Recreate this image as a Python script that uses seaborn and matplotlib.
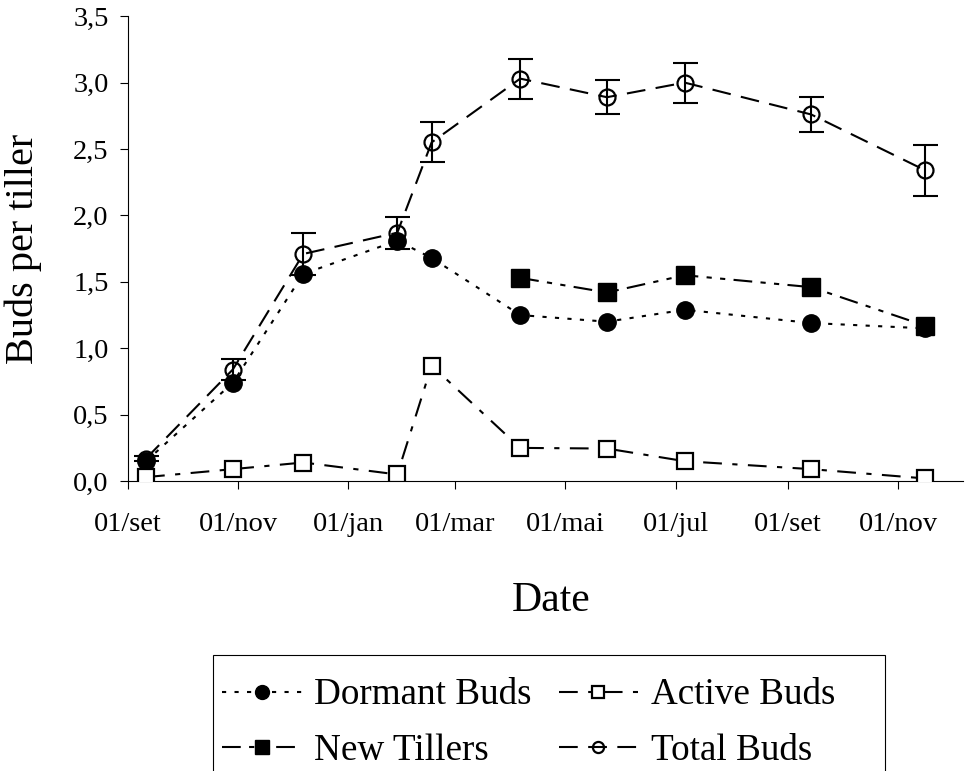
import pandas as pd
import matplotlib
matplotlib.use("Agg")
import matplotlib.pyplot as plt
from matplotlib.patches import Rectangle
import seaborn as sns

# sampling dates (real date axis, Sep 2004 -> Nov 2005)
dates = ["2004-09-11", "2004-10-29", "2004-12-07", "2005-01-28", "2005-02-16",
         "2005-04-06", "2005-05-24", "2005-07-06", "2005-09-14", "2005-11-16"]

dormant = [0.15, 0.74, 1.56, 1.81, 1.68, 1.25, 1.20, 1.29, 1.19, 1.15]
active = [0.03, 0.09, 0.14, 0.05, 0.87, 0.25, 0.245, 0.15, 0.09, 0.02]
new_tillers = [1.53, 1.42, 1.55, 1.46, 1.17]   # only from the 6th date on
total = [0.17, 0.84, 1.71, 1.87, 2.55, 3.03, 2.89, 3.00, 2.76, 2.34]
total_err = [0.02, 0.08, 0.16, 0.12, 0.15, 0.15, 0.13, 0.15, 0.13, 0.19]

tick_dates = ["2004-09-01", "2004-11-01", "2005-01-01", "2005-03-01",
              "2005-05-01", "2005-07-01", "2005-09-01", "2005-11-01"]
tick_labels = ["01/set", "01/nov", "01/jan", "01/mar", "01/mai", "01/jul", "01/set", "01/nov"]

x = pd.to_datetime(dates)

sns.set_style("ticks", rc={"text.color": "k", "axes.labelcolor": "k",
                           "xtick.color": "k", "ytick.color": "k", "axes.edgecolor": "k"})
plt.rcParams['font.family'] = ['Liberation Serif', 'DejaVu Serif']

fig = plt.figure(figsize=(9.65, 7.71), dpi=100)
ax = fig.add_axes([0.1326, 0.376, 0.998 - 0.1326, 0.979 - 0.376])

lw = 1.5
h_dorm = sns.lineplot(x=x, y=dormant, ax=ax, color='k', lw=lw, linestyle=(0, (2, 4)),
                      marker='o', markersize=12.5, markerfacecolor='k', markeredgecolor='k',
                      markeredgewidth=1, zorder=3).lines[-1]
h_act = sns.lineplot(x=x, y=active, ax=ax, color='k', lw=lw, linestyle=(0, (9, 5, 2.5, 5)),
                     marker='s', markersize=11.5, markerfacecolor='w', markeredgecolor='k',
                     markeredgewidth=1.6, zorder=4).lines[-1]
h_new = sns.lineplot(x=x[5:], y=new_tillers, ax=ax, color='k', lw=lw,
                     linestyle=(0, (9, 4, 2.5, 4, 2.5, 4)),
                     marker='s', markersize=12.5, markerfacecolor='k', markeredgecolor='k',
                     markeredgewidth=1, zorder=5).lines[-1]
h_tot = sns.lineplot(x=x, y=total, ax=ax, color='k', lw=lw, linestyle=(0, (9, 5)),
                     marker='o', markersize=11.5, markerfacecolor='none', markeredgecolor='k',
                     markeredgewidth=1.6, zorder=6).lines[-1]
ax.errorbar(x, total, yerr=total_err, fmt='none', ecolor='k', elinewidth=1.5,
            capsize=9, capthick=1.5, zorder=7)

ax.set_ylim(0, 3.5)
ax.set_yticks([0, 0.5, 1.0, 1.5, 2.0, 2.5, 3.0, 3.5])
ax.set_yticklabels([f"{v:.1f}".replace('.', ',') for v in ax.get_yticks()])
ax.set_xlim(pd.Timestamp("2004-09-01"), pd.Timestamp("2004-09-01") + pd.Timedelta(days=462))
ax.set_xticks(pd.to_datetime(tick_dates))
ax.set_xticklabels(tick_labels)
ax.minorticks_off()

ax.tick_params(axis='x', labelsize=20.5, length=6, width=0.8, pad=16)
ax.tick_params(axis='y', labelsize=20.5, length=6, width=0.8, pad=8)
sns.despine(ax=ax)
for s in ['left', 'bottom']:
    ax.spines[s].set_linewidth(0.8)

ax.set_ylabel("Buds per tiller", fontsize=29)
ax.set_xlabel("Date", fontsize=30)
ax.yaxis.set_label_coords(-0.103, 0.5)
ax.xaxis.set_label_coords(0.507, -0.215)

# legend without its own frame; the box is drawn separately (runs off the bottom edge)
handles = [h_dorm, h_new, h_act, h_tot]
labels = ["Dormant Buds", "New Tillers", "Active Buds", "Total Buds"]
leg = fig.legend(handles, labels, loc='upper left', bbox_to_anchor=(222 / 965, 1 - 678 / 771),
                 ncol=2, fontsize=26.7, frameon=False,
                 handlelength=2.15, handletextpad=0.33, columnspacing=0.73,
                 labelspacing=0.56, borderpad=0, borderaxespad=0)
for h, ms in zip(leg.legend_handles, [10, 10, 9, 8]):
    h.set_markersize(ms)
fig.patches.append(Rectangle((213 / 965, -0.02), (885 - 213) / 965, 0.02 + 1 - 655 / 771,
                             transform=fig.transFigure, fill=False, ec='k', lw=0.8))

fig.savefig("out.png", dpi=100)
